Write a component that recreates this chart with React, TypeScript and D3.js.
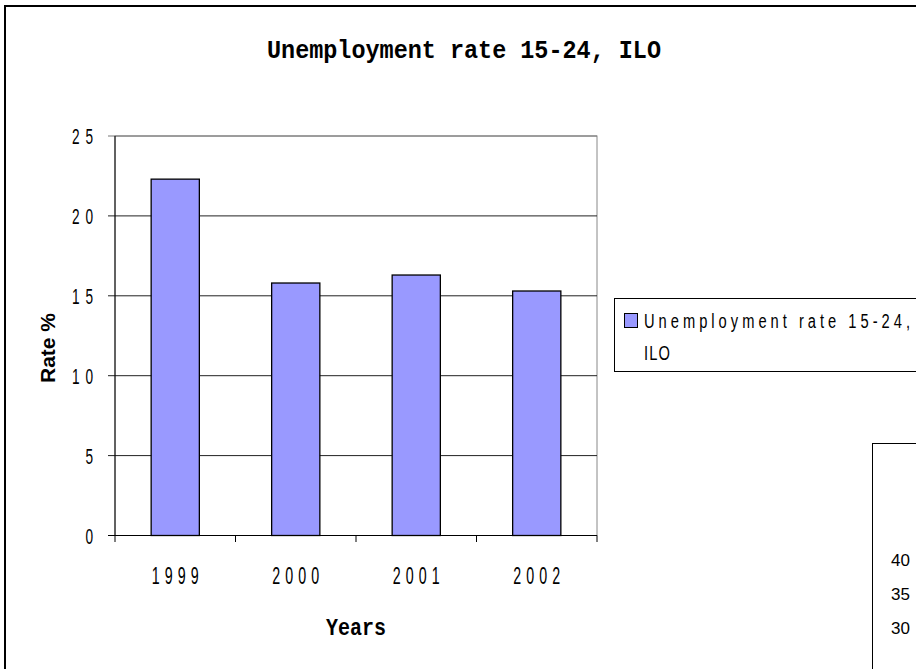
import React from "react";
import * as d3 from "d3";

const years = ["1999", "2000", "2001", "2002"];
const rates = [22.3, 15.8, 16.3, 15.3];
const yTicks = [0, 5, 10, 15, 20, 25];
const titleText = "Unemployment rate 15-24, ILO";
const legendLines = ["Unemployment rate 15-24,", "ILO"];
const sideTicks = ["40", "35", "30"];

const W = 916;
const H = 669;
const SANS = "'Liberation Sans', Arial, sans-serif";
const MONO = "'Liberation Mono', 'Courier New', monospace";

// narrow glyphs (horizontally squeezed) with the leftover room spread as spacing
function NarrowText(props: {
  x: number;
  y: number;
  width: number;
  anchor?: "start" | "middle" | "end";
  size: number;
  sx?: number;
  text: string;
  weight?: string;
}) {
  const sx = props.sx ?? 0.62;
  const anchor = props.anchor ?? "start";
  const multi = props.text.length > 1;
  return (
    <text
      transform={`translate(${props.x},${props.y}) scale(${sx},1)`}
      textAnchor={anchor}
      fontFamily={SANS}
      fontSize={props.size}
      fontWeight={props.weight ?? "normal"}
      textLength={multi ? props.width / sx : undefined}
      lengthAdjust="spacing"
      fill="#000"
    >
      {props.text}
    </text>
  );
}

export default function App() {
  const x = d3
    .scaleBand<string>()
    .domain(years)
    .range([115, 597])
    .paddingInner(0.6)
    .paddingOuter(0.3);
  const xStep = d3.scaleLinear().domain([0, years.length]).range([115, 597]);
  const y = d3.scaleLinear().domain([0, 25]).range([535.5, 136]);
  const sideY = d3.scaleLinear().domain([40, 30]).range([560, 628]);

  return (
    <svg
      width={W}
      height={H}
      style={{ position: "absolute", left: 0, top: 0, background: "#fff" }}
    >
      <rect x={0} y={0} width={W} height={H} fill="#fff" />
      {/* outer chart frame */}
      <rect x={5} y={6} width={1200} height={1200} fill="none" stroke="#000" strokeWidth={2} />

      {/* title */}
      <text
        x={267}
        y={58}
        fontFamily={MONO}
        fontWeight="bold"
        fontSize={26}
        textLength={394}
        lengthAdjust="spacingAndGlyphs"
        fill="#000"
      >
        {titleText}
      </text>

      {/* plot area border */}
      <rect x={115} y={136} width={482} height={399.5} fill="none" stroke="#888" strokeWidth={1} />

      {/* gridlines */}
      {yTicks.map((t) => (
        <line key={"g" + t} x1={108} x2={597} y1={y(t)} y2={y(t)} stroke={t === 25 ? "#777" : "#222"} strokeWidth={1} />
      ))}

      {/* bars */}
      {years.map((yr, i) => (
        <rect
          key={yr}
          x={x(yr)}
          y={y(rates[i])}
          width={x.bandwidth()}
          height={y(0) - y(rates[i])}
          fill="#9999ff"
          stroke="#000"
          strokeWidth={1.3}
        />
      ))}

      {/* axes */}
      <line x1={115} x2={115} y1={136} y2={535.5} stroke="#000" strokeWidth={1} />
      <line x1={108} x2={597} y1={535.5} y2={535.5} stroke="#000" strokeWidth={1.2} />
      {d3.range(years.length + 1).map((i) => (
        <line key={"xt" + i} x1={xStep(i)} x2={xStep(i)} y1={535.5} y2={542} stroke="#000" strokeWidth={1} />
      ))}

      {/* y tick labels */}
      {yTicks.map((t) => (
        <NarrowText key={"yl" + t} x={93} y={y(t) + 8} width={21} anchor="end" size={22} text={String(t)} />
      ))}

      {/* x tick labels */}
      {years.map((yr) => (
        <NarrowText
          key={"xl" + yr}
          x={(x(yr) as number) + x.bandwidth() / 2}
          y={584}
          width={47}
          anchor="middle"
          size={23}
          text={yr}
        />
      ))}

      {/* axis titles */}
      <text
        x={326}
        y={635}
        fontFamily={MONO}
        fontWeight="bold"
        fontSize={24}
        textLength={60}
        lengthAdjust="spacingAndGlyphs"
        fill="#000"
      >
        Years
      </text>
      <text
        transform="translate(55,348) rotate(-90)"
        textAnchor="middle"
        fontFamily={SANS}
        fontWeight="bold"
        fontSize={21}
        textLength={70}
        lengthAdjust="spacingAndGlyphs"
        fill="#000"
      >
        Rate %
      </text>

      {/* legend */}
      <rect x={614.5} y={298.5} width={400} height={73} fill="#fff" stroke="#000" strokeWidth={1} />
      <rect x={624.5} y={313.5} width={13} height={14} fill="#9999ff" stroke="#000" strokeWidth={1} />
      <NarrowText x={644} y={328} width={266} size={21} sx={0.7} text={legendLines[0]} />
      <NarrowText x={644} y={360} width={26} size={21} sx={0.7} text={legendLines[1]} />

      {/* partially visible second chart */}
      <rect x={872.5} y={443.5} width={300} height={300} fill="#fff" stroke="#000" strokeWidth={1} />
      {sideTicks.map((t) => (
        <text
          key={"s" + t}
          x={891}
          y={sideY(+t) + 6}
          fontFamily={SANS}
          fontSize={17}
          fill="#000"
        >
          {t}
        </text>
      ))}
    </svg>
  );
}
